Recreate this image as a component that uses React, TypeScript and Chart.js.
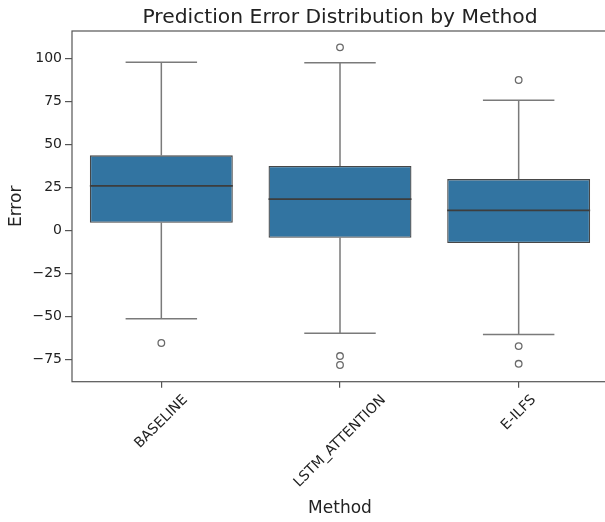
import React, { useEffect, useRef } from "react";
import { Chart, registerables } from "chart.js";

Chart.register(...registerables);

// ---- data ----
const METHODS = ["BASELINE", "LSTM_ATTENTION", "E-ILFS"];
const WHISKER_LOW = [-51.4, -59.9, -60.5];
const Q1 = [4.4, -4.3, -7.4];
const MEDIAN = [25.8, 18.2, 11.6];
const Q3 = [43.6, 37.4, 29.8];
const WHISKER_HIGH = [97.8, 97.4, 75.6];
const OUTLIER_METHODS = [
  "BASELINE",
  "LSTM_ATTENTION",
  "LSTM_ATTENTION",
  "LSTM_ATTENTION",
  "E-ILFS",
  "E-ILFS",
  "E-ILFS",
];
const OUTLIER_VALUES = [-65.5, 106.4, -73.1, -78.3, 87.4, -67.3, -77.6];
const Y_TICKS = [-75, -50, -25, 0, 25, 50, 75, 100];
const Y_MIN = -88;
const Y_MAX = 115.9;

const TITLE = "Prediction Error Distribution by Method";
const X_TITLE = "Method";
const Y_TITLE = "Error";

// ---- styles ----
const FONT = "'DejaVu Sans', 'Liberation Sans', sans-serif";
const BOX_FILL = "#3274a1";
const BOX_EDGE = "#474747";
const WHISKER = "#7a7a7a";
const MEDIAN_C = "#3d3d3d";
const SPINE = "#555555";
const TEXT = "#222222";

const boxParts = {
  id: "boxParts",
  beforeDatasetsDraw(chart: any) {
    const { ctx, scales } = chart;
    const x = scales.x;
    const y = scales.y;
    const cat = x.getPixelForValue(1) - x.getPixelForValue(0);
    const capHalf = cat * 0.2;
    ctx.save();
    ctx.strokeStyle = WHISKER;
    ctx.lineWidth = 1.5;
    METHODS.forEach((_, i) => {
      const cx = x.getPixelForValue(i);
      const yHi = y.getPixelForValue(WHISKER_HIGH[i]);
      const yLo = y.getPixelForValue(WHISKER_LOW[i]);
      ctx.beginPath();
      ctx.moveTo(cx, y.getPixelForValue(Q3[i]));
      ctx.lineTo(cx, yHi);
      ctx.moveTo(cx, y.getPixelForValue(Q1[i]));
      ctx.lineTo(cx, yLo);
      ctx.moveTo(cx - capHalf, yHi);
      ctx.lineTo(cx + capHalf, yHi);
      ctx.moveTo(cx - capHalf, yLo);
      ctx.lineTo(cx + capHalf, yLo);
      ctx.stroke();
    });
    ctx.restore();
  },
  afterDatasetsDraw(chart: any) {
    const { ctx, scales } = chart;
    const y = scales.y;
    const meta = chart.getDatasetMeta(1);
    ctx.save();
    ctx.strokeStyle = MEDIAN_C;
    ctx.lineWidth = 1.8;
    METHODS.forEach((_, i) => {
      const bar = meta.data[i];
      if (!bar) return;
      const half = bar.width / 2;
      const my = y.getPixelForValue(MEDIAN[i]);
      ctx.beginPath();
      ctx.moveTo(bar.x - half, my);
      ctx.lineTo(bar.x + half, my);
      ctx.stroke();
    });
    ctx.restore();
  },
  afterDraw(chart: any) {
    const { ctx, chartArea, scales } = chart;
    const x = scales.x;
    ctx.save();
    ctx.strokeStyle = SPINE;
    ctx.lineWidth = 1.2;
    ctx.strokeRect(
      chartArea.left,
      chartArea.top,
      chartArea.right - chartArea.left,
      chartArea.bottom - chartArea.top
    );
    // title centred over the plotting area (matplotlib style)
    ctx.font = `20.3px ${FONT}`;
    ctx.fillStyle = TEXT;
    ctx.textAlign = "center";
    ctx.textBaseline = "alphabetic";
    ctx.fillText(TITLE, (chartArea.left + chartArea.right) / 2, chartArea.top - 8.3);
    // rotated x tick labels, centred under each tick (matplotlib style)
    ctx.font = `14px ${FONT}`;
    ctx.textBaseline = "middle";
    METHODS.forEach((label, i) => {
      const cx = x.getPixelForValue(i);
      const w = ctx.measureText(label).width;
      const half = (w + 10) / (2 * Math.SQRT2);
      const cy = chartArea.bottom + 12.5 + half;
      ctx.save();
      ctx.translate(cx, cy);
      ctx.rotate(-Math.PI / 4);
      ctx.fillText(label, 0, 0);
      ctx.restore();
    });
    ctx.restore();
  },
};

export default function App() {
  const ref = useRef<HTMLCanvasElement | null>(null);

  useEffect(() => {
    if (!ref.current) return;
    const chart = new Chart(ref.current, {
      type: "bar",
      data: {
        labels: METHODS,
        datasets: [
          {
            type: "line",
            label: "outliers",
            data: OUTLIER_METHODS.map((m, i) => ({ x: m, y: OUTLIER_VALUES[i] })),
            showLine: false,
            pointStyle: "circle",
            pointRadius: 3.3,
            pointBorderWidth: 1.3,
            pointBorderColor: "#6a6a6a",
            pointBackgroundColor: "rgba(255,255,255,0)",
            order: 0,
          } as any,
          {
            type: "bar",
            label: "box",
            data: METHODS.map((_, i) => [Q1[i], Q3[i]]),
            backgroundColor: BOX_FILL,
            borderColor: BOX_EDGE,
            borderWidth: 1.3,
            borderSkipped: false,
            barPercentage: 0.8,
            categoryPercentage: 1.0,
            order: 1,
          } as any,
        ],
      },
      options: {
        responsive: false,
        animation: false,
        devicePixelRatio: 1,
        layout: { padding: { left: 0, top: 31, bottom: 0, right: 0 }, autoPadding: false },
        font: { family: FONT },
        plugins: {
          legend: { display: false },
          tooltip: { enabled: false },
          title: { display: false },
        },
        scales: {
          x: {
            type: "category",
            offset: true,
            grid: {
              display: true,
              drawOnChartArea: false,
              drawTicks: true,
              tickLength: 6,
              offset: false,
              color: SPINE,
              lineWidth: 1.2,
            },
            border: { display: false },
            ticks: { display: false },
            title: {
              display: true,
              text: X_TITLE,
              color: TEXT,
              font: { family: FONT, size: 17 },
              padding: { top: 0, bottom: 3 },
            },
            afterFit: (s: any) => {
              s.height = 140.3;
            },
          },
          y: {
            type: "linear",
            min: Y_MIN,
            max: Y_MAX,
            afterBuildTicks: (s: any) => {
              s.ticks = Y_TICKS.map((v) => ({ value: v }));
            },
            grid: {
              display: true,
              drawOnChartArea: false,
              drawTicks: true,
              tickLength: 7,
              color: SPINE,
              lineWidth: 1.2,
            },
            border: { display: false },
            ticks: {
              color: TEXT,
              padding: 3,
              font: { family: FONT, size: 14 },
              callback: (v: any) => String(v).replace("-", "\u2212"),
            },
            title: {
              display: true,
              text: Y_TITLE,
              color: TEXT,
              font: { family: FONT, size: 17 },
              padding: { top: 6, bottom: 0 },
            },
            afterFit: (s: any) => {
              s.width = 72;
            },
          },
        },
      },
      plugins: [boxParts],
    } as any);
    return () => chart.destroy();
  }, []);

  return (
    <div
      style={{
        position: "fixed",
        left: 0,
        top: 0,
        width: 605,
        height: 522,
        overflow: "hidden",
        background: "#ffffff",
      }}
    >
      <canvas
        ref={ref}
        width={608}
        height={522}
        style={{ display: "block", width: 608, height: 522 }}
      />
    </div>
  );
}
